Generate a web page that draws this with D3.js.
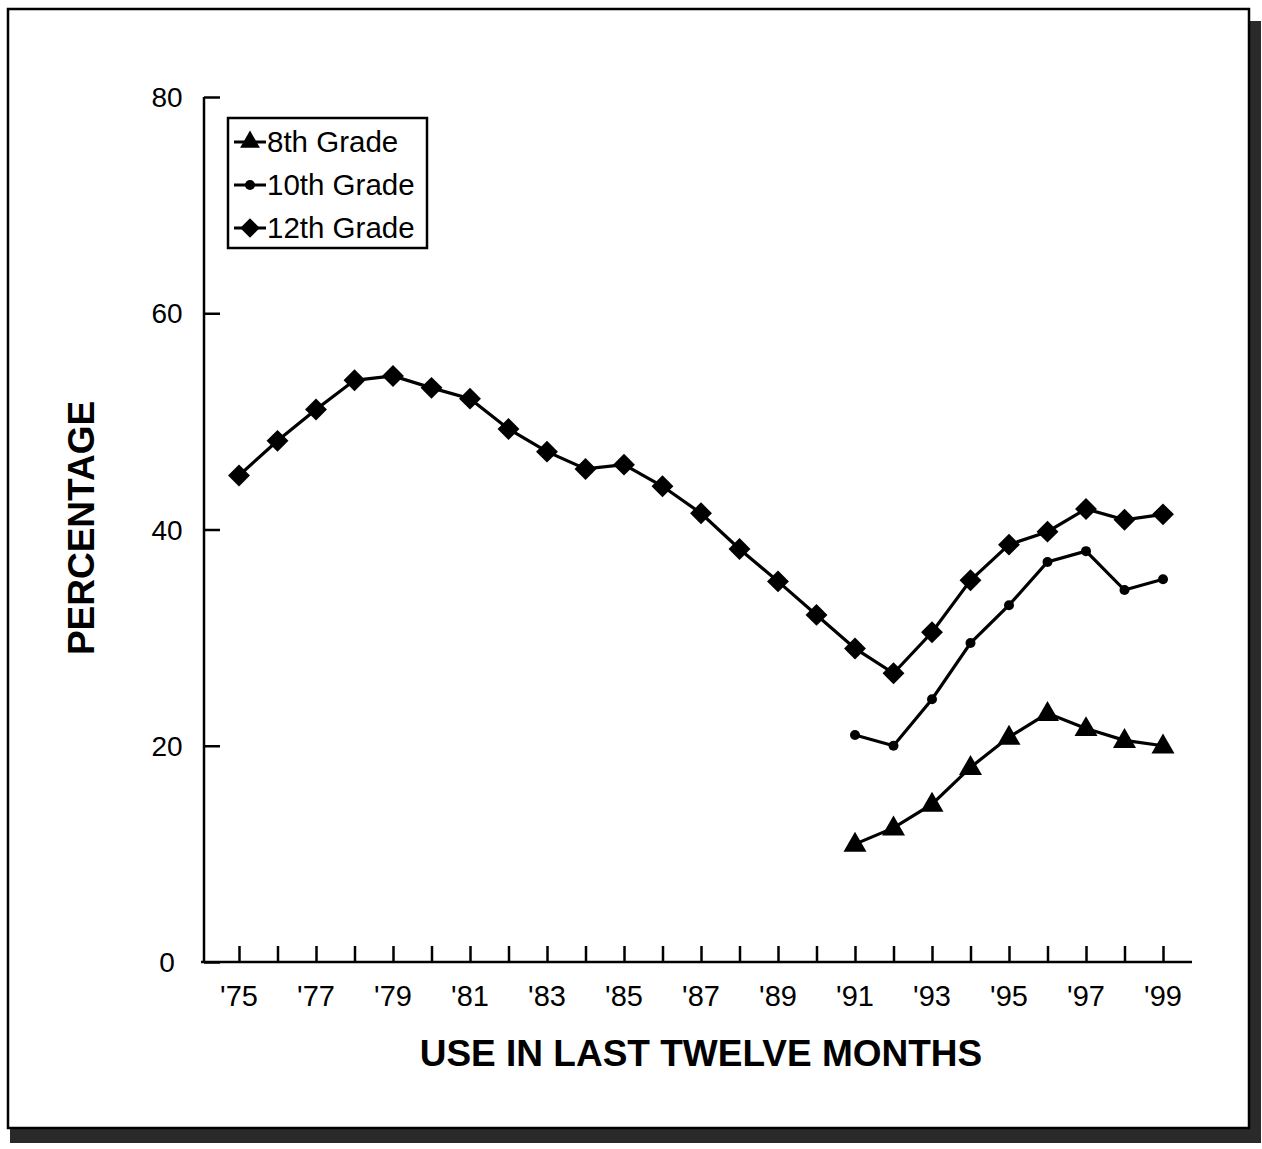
<!DOCTYPE html>
<html><head><meta charset="utf-8">
<script src="https://cdn.jsdelivr.net/npm/d3@7"></script>
<style>body{margin:0;background:#fff}svg{display:block}</style>
</head><body>
<svg id="c" width="1262" height="1149"></svg>
<script>
const years = d3.range(1975, 2000);
const xTickYears = [1975,1977,1979,1981,1983,1985,1987,1989,1991,1993,1995,1997,1999];
const yTicks = [0,20,40,60,80];
const grade12 = [45.0,48.2,51.1,53.8,54.2,53.1,52.1,49.3,47.2,45.6,46.0,44.0,41.5,38.2,35.2,32.1,29.0,26.7,30.5,35.3,38.6,39.8,41.9,40.9,41.4];
const years10 = d3.range(1991, 2000);
const grade10 = [21.0,20.0,24.3,29.5,33.0,37.0,38.0,34.4,35.4];
const grade8 = [10.9,12.4,14.6,18.0,20.8,23.0,21.6,20.5,20.0];
const legendLabels = ["8th Grade","10th Grade","12th Grade"];

const svg = d3.select("#c");
const font = "'Liberation Sans', Arial, Helvetica, sans-serif";

// frame shadow + border
svg.append("rect").attr("x",1249).attr("y",21).attr("width",12).attr("height",1122).attr("fill","#2a2a2a");
svg.append("rect").attr("x",10).attr("y",1128).attr("width",1251).attr("height",15).attr("fill","#2a2a2a");
svg.append("rect").attr("x",8).attr("y",9).attr("width",1241).attr("height",1119)
  .attr("fill","#fff").attr("stroke","#000").attr("stroke-width",2.5);

const x = d3.scaleLinear().domain([1975,1999]).range([239,1163]);
const y = d3.scaleLinear().domain([0,80]).range([962,97]);

// y axis
const gy = svg.append("g").attr("transform","translate(204,0)")
  .call(d3.axisRight(y).tickValues(yTicks).tickSize(16).tickFormat(""));
gy.select(".domain").attr("d","M0,"+y(80)+"V"+y(0)).attr("stroke-width",2.5);
gy.selectAll(".tick line").attr("stroke-width",2.5);
svg.append("g").selectAll("text").data(yTicks).join("text")
  .attr("x",167).attr("y",d=>y(d)+10).attr("text-anchor","middle")
  .attr("font-family",font).attr("font-size",28).text(d=>d);

// x axis
const gx = svg.append("g").attr("transform","translate(0,"+y(0)+")")
  .call(d3.axisTop(x).tickValues(years).tickSize(16).tickFormat(""));
gx.select(".domain").attr("d","M201,0H1192").attr("stroke-width",2.5);
gx.selectAll(".tick line").attr("stroke-width",2.5);
svg.append("g").selectAll("text").data(xTickYears).join("text")
  .attr("x",d=>x(d)).attr("y",1006).attr("text-anchor","middle")
  .attr("font-family",font).attr("font-size",29).text(d=>"'"+String(d).slice(2));

// axis titles
svg.append("text").attr("transform","translate(94,528) rotate(-90)")
  .attr("text-anchor","middle").attr("font-family",font).attr("font-weight","bold")
  .attr("font-size",37).text("PERCENTAGE");
svg.append("text").attr("x",701).attr("y",1066).attr("text-anchor","middle")
  .attr("font-family",font).attr("font-weight","bold").attr("font-size",37).text("USE IN LAST TWELVE MONTHS");

const line = d3.line().x(d=>x(d[0])).y(d=>y(d[1]));
const d12 = years.map((yr,i)=>[yr,grade12[i]]);
const d10 = years10.map((yr,i)=>[yr,grade10[i]]);
const d8 = years10.map((yr,i)=>[yr,grade8[i]]);
[d12,d10,d8].forEach(d=>svg.append("path").attr("d",line(d)).attr("fill","none").attr("stroke","#000").attr("stroke-width",3.2));

const diamond = d3.symbol().type(d3.symbolSquare).size(240);
const tri = d3.symbol().type(d3.symbolTriangle).size(230);
svg.append("g").selectAll("path").data(d12).join("path")
  .attr("d",diamond()).attr("transform",d=>`translate(${x(d[0])},${y(d[1])}) rotate(45)`);
svg.append("g").selectAll("circle").data(d10).join("circle")
  .attr("cx",d=>x(d[0])).attr("cy",d=>y(d[1])).attr("r",5);
svg.append("g").selectAll("path").data(d8).join("path")
  .attr("d",tri()).attr("transform",d=>`translate(${x(d[0])},${y(d[1])+1})`);

// legend
svg.append("rect").attr("x",228).attr("y",118).attr("width",199).attr("height",130)
  .attr("fill","#fff").attr("stroke","#000").attr("stroke-width",2.5);
const ly = [142,185,228];
const lg = svg.append("g").selectAll("g").data(legendLabels).join("g")
  .attr("transform",(d,i)=>`translate(0,${ly[i]})`);
lg.append("line").attr("x1",234).attr("x2",266).attr("stroke","#000").attr("stroke-width",3);
lg.append("text").attr("x",267).attr("y",10).attr("font-family",font).attr("font-size",29.5).text(d=>d);
lg.filter((d,i)=>i===0).append("path").attr("d",d3.symbol().type(d3.symbolTriangle).size(170)()).attr("transform","translate(250,0)");
lg.filter((d,i)=>i===1).append("circle").attr("cx",250).attr("r",5);
lg.filter((d,i)=>i===2).append("path").attr("d",d3.symbol().type(d3.symbolSquare).size(190)()).attr("transform","translate(250,0) rotate(45)");
</script>
</body></html>
